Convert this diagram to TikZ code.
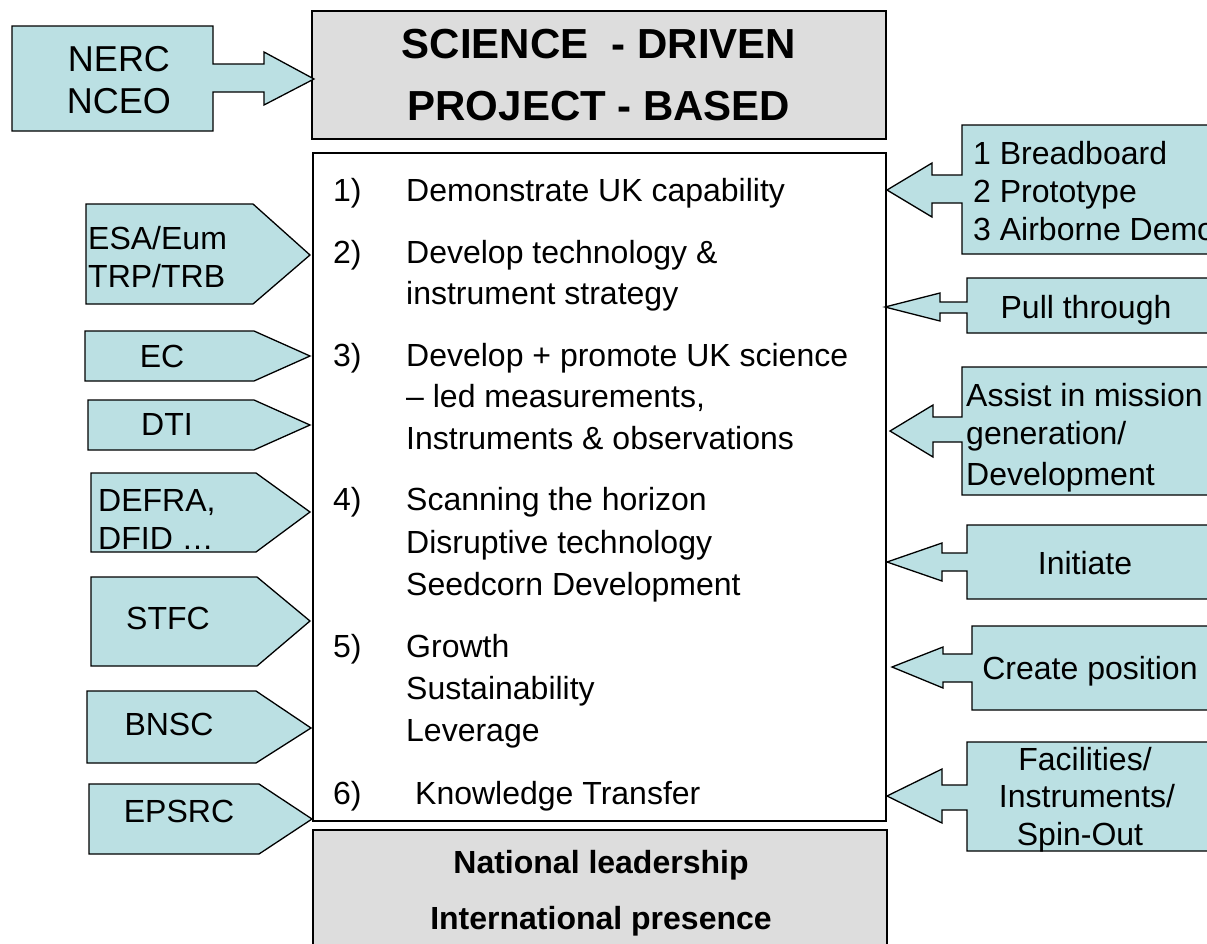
\documentclass[tikz,border=0pt]{standalone}
\usepackage{fontspec}
\setmainfont{Liberation Sans}
\definecolor{cyanfill}{RGB}{187,224,227}
\definecolor{grayfill}{RGB}{221,221,221}
\tikzset{
  callout/.style={draw=black, fill=cyanfill, line width=1.3pt, line join=miter},
  panel/.style={draw=black, line width=1.3pt},
  txt/.style={inner sep=0pt, font=\fontsize{32}{38}\selectfont},
  bigtxt/.style={inner sep=0pt, font=\fontsize{36}{42}\selectfont},
  titletxt/.style={inner sep=0pt, font=\fontsize{42}{50}\selectfont\bfseries},
  boldtxt/.style={inner sep=0pt, font=\fontsize{32}{38}\selectfont\bfseries},
}
\begin{document}
\begin{tikzpicture}[x=1pt,y=-1pt]
\useasboundingbox (0,0) rectangle (1207,943);
\fill[white] (0,0) rectangle (1207,943);
% panels
\draw[panel, fill=grayfill] (312,11) rectangle (886,139);
\draw[panel, fill=white] (313,153) rectangle (886,821);
\draw[panel, fill=grayfill] (313,830) rectangle (887,960);
% title texts
\node[titletxt, anchor=base] (t1) at (599,58) {SCIENCE\ \ - DRIVEN};
\node[titletxt, anchor=base] (t2) at (599,120) {PROJECT - BASED};
\node[boldtxt, anchor=base] (b1) at (601,873) {National leadership};
\node[boldtxt, anchor=base] (b2) at (601,929) {International presence};
% middle items
\node[txt, anchor=base west] (m1n) at (333,201) {1)};
\node[txt, anchor=base west] (m1) at (406,201) {Demonstrate UK capability};
\node[txt, anchor=base west] (m2n) at (333,263) {2)};
\node[txt, anchor=base west] (m2a) at (406,263) {Develop technology \&};
\node[txt, anchor=base west] (m2b) at (406,304) {instrument strategy};
\node[txt, anchor=base west] (m3n) at (333,366) {3)};
\node[txt, anchor=base west] (m3a) at (406,366) {Develop + promote UK science};
\node[txt, anchor=base west] (m3b) at (406,407) {– led measurements,};
\node[txt, anchor=base west] (m3c) at (406,449) {Instruments \& observations};
\node[txt, anchor=base west] (m4n) at (333,510) {4)};
\node[txt, anchor=base west] (m4a) at (406,510) {Scanning the horizon};
\node[txt, anchor=base west] (m4b) at (406,553) {Disruptive technology};
\node[txt, anchor=base west] (m4c) at (406,595) {Seedcorn Development};
\node[txt, anchor=base west] (m5n) at (333,657) {5)};
\node[txt, anchor=base west] (m5a) at (406,657) {Growth};
\node[txt, anchor=base west] (m5b) at (406,699) {Sustainability};
\node[txt, anchor=base west] (m5c) at (406,741) {Leverage};
\node[txt, anchor=base west] (m6n) at (333,804) {6)};
\node[txt, anchor=base west] (m6) at (415,804) {Knowledge Transfer};
% NERC callout
\draw[callout] (12,26) -- (213,26) -- (213,64) -- (264,64) -- (264,52) -- (314,79)
  -- (264,105) -- (264,92) -- (213,92) -- (213,131) -- (12,131) -- cycle;
\node[bigtxt, anchor=base] (nerc) at (119,71) {NERC};
\node[bigtxt, anchor=base] (nceo) at (119,113) {NCEO};
% left pentagons
\draw[callout] (86,204) -- (253,204) -- (310,255) -- (253,304) -- (86,304) -- cycle;
\node[txt, anchor=base west] (esa) at (88,249) {ESA/Eum};
\node[txt, anchor=base west] (trp) at (88,287) {TRP/TRB};
\draw[callout] (85,331) -- (254,331) -- (310,356) -- (254,381) -- (85,381) -- cycle;
\node[txt, anchor=base] (ec) at (162,367) {EC};
\draw[callout] (88,400) -- (254,400) -- (310,425) -- (254,450) -- (88,450) -- cycle;
\node[txt, anchor=base] (dti) at (167,435) {DTI};
\draw[callout] (91,473) -- (256,473) -- (310,512) -- (256,552) -- (91,552) -- cycle;
\node[txt, anchor=base west] (defra) at (98,511) {DEFRA,};
\node[txt, anchor=base west] (dfid) at (98,549) {DFID …};
\draw[callout] (91,577) -- (257,577) -- (310,621) -- (257,666) -- (91,666) -- cycle;
\node[txt, anchor=base] (stfc) at (168,629) {STFC};
\draw[callout] (87,691) -- (256,691) -- (311,728) -- (256,763) -- (87,763) -- cycle;
\node[txt, anchor=base] (bnsc) at (169,735) {BNSC};
\draw[callout] (89,784) -- (259,784) -- (312,819) -- (259,854) -- (89,854) -- cycle;
\node[txt, anchor=base] (epsrc) at (179,822) {EPSRC};
% right callouts
\draw[callout] (1230,125) -- (962,125) -- (962,175) -- (932,175) -- (932,163) -- (887,190)
  -- (932,217) -- (932,203) -- (962,203) -- (962,254) -- (1230,254) -- cycle;
\node[txt, anchor=base west] (r1a) at (973,164) {1 Breadboard};
\node[txt, anchor=base west] (r1b) at (973,202) {2 Prototype};
\node[txt, anchor=base west] (r1c) at (973,240) {3 Airborne Demo};
\draw[callout] (1230,278) -- (967,278) -- (967,302) -- (940,302) -- (940,293) -- (885,307)
  -- (940,321) -- (940,313) -- (967,313) -- (967,333) -- (1230,333) -- cycle;
\node[txt, anchor=base] (r2) at (1086,318) {Pull through};
\draw[callout] (1230,367) -- (962,367) -- (962,417) -- (933,417) -- (933,405) -- (890,431)
  -- (933,457) -- (933,442) -- (962,442) -- (962,495) -- (1230,495) -- cycle;
\node[txt, anchor=base west] (r3a) at (966,406) {Assist in mission};
\node[txt, anchor=base west] (r3b) at (966,444) {generation/};
\node[txt, anchor=base west] (r3c) at (966,485) {Development};
\draw[callout] (1230,525) -- (967,525) -- (967,553) -- (942,553) -- (942,543) -- (887,562)
  -- (942,581) -- (942,571) -- (967,571) -- (967,599) -- (1230,599) -- cycle;
\node[txt, anchor=base] (r4) at (1085,574) {Initiate};
\draw[callout] (1230,626) -- (972,626) -- (972,654) -- (943,654) -- (943,647) -- (892,667)
  -- (943,688) -- (943,682) -- (972,682) -- (972,710) -- (1230,710) -- cycle;
\node[txt, anchor=base] (r5) at (1090,679) {Create position};
\draw[callout] (1230,742) -- (967,742) -- (967,785) -- (942,785) -- (942,769) -- (887,796)
  -- (942,823) -- (942,810) -- (967,810) -- (967,851) -- (1230,851) -- cycle;
\node[txt, anchor=base] (r6a) at (1085,770) {Facilities/};
\node[txt, anchor=base] (r6b) at (1087,807) {Instruments/};
\node[txt, anchor=base] (r6c) at (1080,845) {Spin-Out};
\end{tikzpicture}
\end{document}
